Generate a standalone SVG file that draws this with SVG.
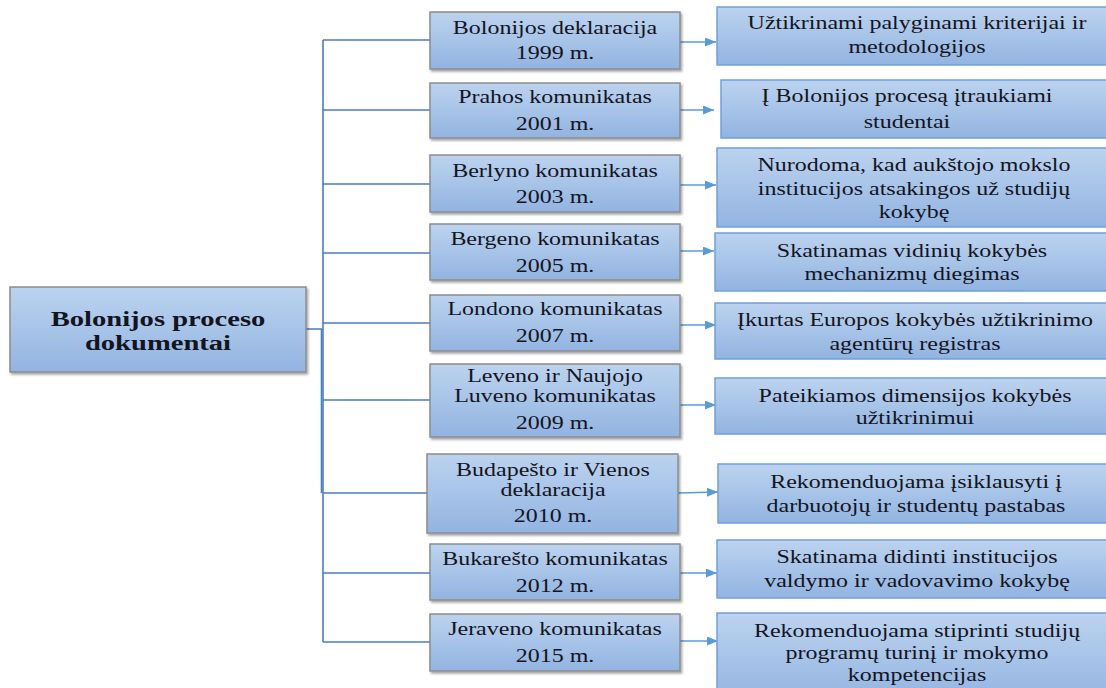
<svg xmlns="http://www.w3.org/2000/svg" width="1106" height="688" viewBox="0 0 1106 688">
<defs>
<linearGradient id="g" x1="0" y1="0" x2="0" y2="1">
<stop offset="0" stop-color="#bcd3ef"/>
<stop offset="1" stop-color="#92b4e1"/>
</linearGradient>
<filter id="sh" x="-5%" y="-10%" width="115%" height="130%">
<feDropShadow dx="1.5" dy="2" stdDeviation="1.2" flood-color="#000" flood-opacity="0.35"/>
</filter>
<marker id="ah" markerWidth="11" markerHeight="9" refX="11" refY="4.5" orient="auto" markerUnits="userSpaceOnUse">
<path d="M0,0 L11,4.5 L0,9 z" fill="#5b9bd5"/>
</marker>
<style>
.mid{fill:url(#g);stroke:#8c8c8c;stroke-width:1.5;filter:url(#sh)}
.rt{fill:url(#g);stroke:#6fa0dc;stroke-width:1.5}
.root{fill:url(#g);stroke:#8c8c8c;stroke-width:1.5;filter:url(#sh)}
text{font-family:"Liberation Serif","Times New Roman",serif;fill:#14141e;text-anchor:middle;font-size:19.5px}
.b{font-weight:bold;font-size:22px}
.tr{fill:none;stroke:#4a7ebb;stroke-width:1.6}
.ar{fill:none;stroke:#5b9bd5;stroke-width:1.6;marker-end:url(#ah)}
</style>
</defs>

<g id="connectors">
<path class="tr" d="M323,40 V642"/>
<path class="tr" d="M306,329 H321.5 V493" stroke-width="2"/>
<path class="tr" d="M323,40 H430 M323,110 H430 M323,184 H430 M323,253 H430 M323,323 H430 M323,400 H430 M323,493 H427 M323,573 H430 M323,642 H430"/>
<line class="ar" x1="680" y1="42" x2="716" y2="42"/>
<line class="ar" x1="680" y1="110" x2="714" y2="110"/>
<line class="ar" x1="680" y1="185" x2="716" y2="185"/>
<line class="ar" x1="680" y1="251" x2="714" y2="251"/>
<line class="ar" x1="680" y1="325" x2="716" y2="325"/>
<line class="ar" x1="680" y1="405" x2="716" y2="405"/>
<line class="ar" x1="678" y1="493" x2="718" y2="492"/>
<line class="ar" x1="680" y1="573" x2="717" y2="573"/>
<line class="ar" x1="680" y1="641" x2="718" y2="641"/>
</g>

<g id="root">
<rect class="root" x="10" y="287" width="296" height="85"/>
<g transform="translate(158,0) scale(1.3,1)"><text class="b" x="0" y="326">Bolonijos proceso</text><text class="b" x="0" y="350">dokumentai</text></g>
</g>

<g id="m1"><rect class="mid" x="430" y="12" width="250" height="57"/>
<g transform="translate(555,0) scale(1.23,1)"><text x="0" y="34">Bolonijos deklaracija</text><text x="0" y="59">1999 m.</text></g></g>
<g id="m2"><rect class="mid" x="430" y="83" width="250" height="55"/>
<g transform="translate(555,0) scale(1.23,1)"><text x="0" y="103">Prahos komunikatas</text><text x="0" y="130">2001 m.</text></g></g>
<g id="m3"><rect class="mid" x="430" y="155" width="250" height="57"/>
<g transform="translate(555,0) scale(1.23,1)"><text x="0" y="177">Berlyno komunikatas</text><text x="0" y="203">2003 m.</text></g></g>
<g id="m4"><rect class="mid" x="430" y="224" width="250" height="56"/>
<g transform="translate(555,0) scale(1.23,1)"><text x="0" y="245">Bergeno komunikatas</text><text x="0" y="272">2005 m.</text></g></g>
<g id="m5"><rect class="mid" x="430" y="295" width="250" height="56"/>
<g transform="translate(555,0) scale(1.23,1)"><text x="0" y="315">Londono komunikatas</text><text x="0" y="342">2007 m.</text></g></g>
<g id="m6"><rect class="mid" x="430" y="364" width="250" height="73"/>
<g transform="translate(555,0) scale(1.23,1)"><text x="0" y="382">Leveno ir Naujojo</text><text x="0" y="402">Luveno komunikatas</text><text x="0" y="429">2009 m.</text></g></g>
<g id="m7"><rect class="mid" x="427" y="454" width="251" height="79"/>
<g transform="translate(553,0) scale(1.23,1)"><text x="0" y="476">Budapešto ir Vienos</text><text x="0" y="496">deklaracija</text><text x="0" y="522">2010 m.</text></g></g>
<g id="m8"><rect class="mid" x="430" y="544" width="250" height="56"/>
<g transform="translate(555,0) scale(1.23,1)"><text x="0" y="565">Bukarešto komunikatas</text><text x="0" y="592">2012 m.</text></g></g>
<g id="m9"><rect class="mid" x="430" y="614" width="250" height="57"/>
<g transform="translate(555,0) scale(1.23,1)"><text x="0" y="635">Jeraveno komunikatas</text><text x="0" y="662">2015 m.</text></g></g>

<g id="r1"><rect class="rt" x="717" y="7" width="400" height="58"/>
<g transform="translate(917,0) scale(1.23,1)"><text x="0" y="29">Užtikrinami palyginami kriterijai ir</text><text x="0" y="53">metodologijos</text></g></g>
<g id="r2"><rect class="rt" x="721" y="80" width="400" height="58"/>
<g transform="translate(907,0) scale(1.23,1)"><text x="0" y="102">Į Bolonijos procesą įtraukiami</text><text x="0" y="128">studentai</text></g></g>
<g id="r3"><rect class="rt" x="717" y="148" width="400" height="79"/>
<g transform="translate(914,0) scale(1.23,1)"><text x="0" y="171">Nurodoma, kad aukštojo mokslo</text><text x="0" y="195">institucijos atsakingos už studijų</text><text x="0" y="218">kokybę</text></g></g>
<g id="r4"><rect class="rt" x="715" y="233" width="400" height="58"/>
<g transform="translate(912,0) scale(1.23,1)"><text x="0" y="257">Skatinamas vidinių kokybės</text><text x="0" y="280">mechanizmų diegimas</text></g></g>
<g id="r5"><rect class="rt" x="715" y="303" width="400" height="56"/>
<g transform="translate(915,0) scale(1.23,1)"><text x="0" y="326">Įkurtas Europos kokybės užtikrinimo</text><text x="0" y="350">agentūrų registras</text></g></g>
<g id="r6"><rect class="rt" x="715" y="378" width="400" height="56"/>
<g transform="translate(915,0) scale(1.23,1)"><text x="0" y="402">Pateikiamos dimensijos kokybės</text><text x="0" y="424">užtikrinimui</text></g></g>
<g id="r7"><rect class="rt" x="718" y="464" width="400" height="59"/>
<g transform="translate(916,0) scale(1.23,1)"><text x="0" y="488">Rekomenduojama įsiklausyti į</text><text x="0" y="512">darbuotojų ir studentų pastabas</text></g></g>
<g id="r8"><rect class="rt" x="717" y="540" width="400" height="58"/>
<g transform="translate(917,0) scale(1.23,1)"><text x="0" y="563">Skatinama didinti institucijos</text><text x="0" y="587">valdymo ir vadovavimo kokybę</text></g></g>
<g id="r9"><rect class="rt" x="717" y="613" width="400" height="90"/>
<g transform="translate(917,0) scale(1.23,1)"><text x="0" y="637">Rekomenduojama stiprinti studijų</text><text x="0" y="659">programų turinį ir mokymo</text><text x="0" y="681">kompetencijas</text></g></g>
</svg>
